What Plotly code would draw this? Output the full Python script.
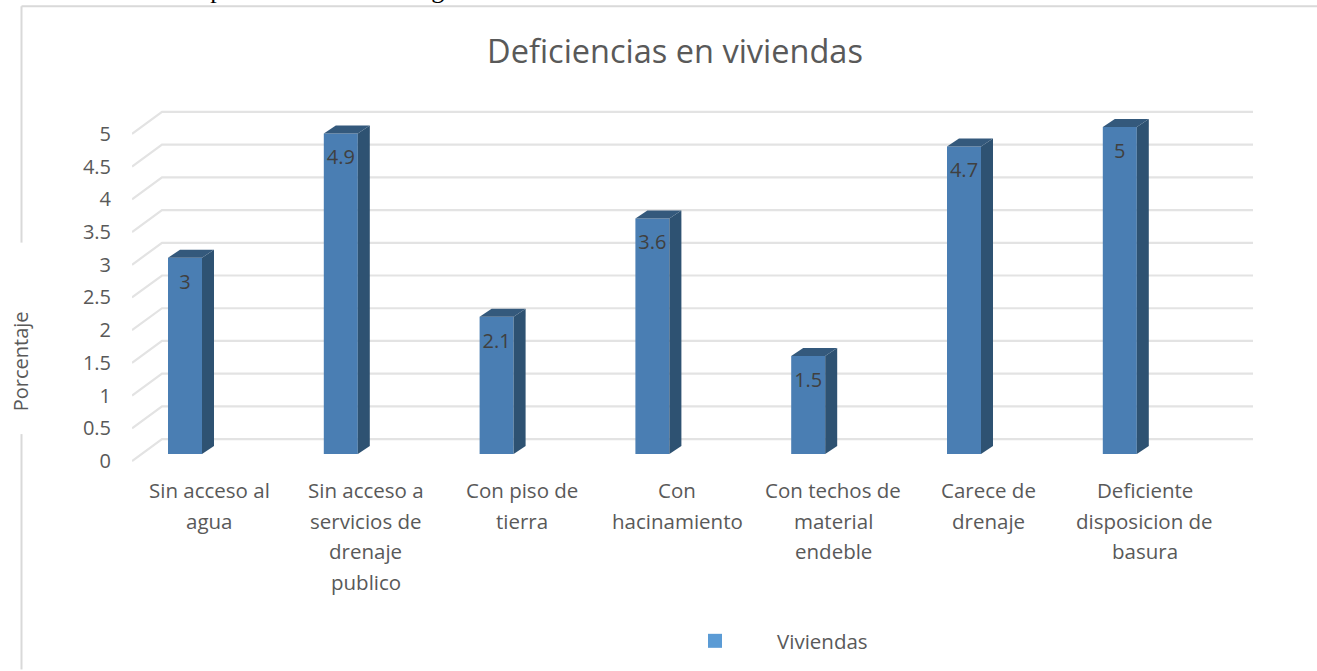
import plotly.graph_objects as go

# Data
categories = [
    ["Sin acceso al", "agua"],
    ["Sin acceso a", "servicios de", "drenaje", "publico"],
    ["Con piso de", "tierra"],
    ["Con", "hacinamiento"],
    ["Con techos de", "material", "endeble"],
    ["Carece de", "drenaje"],
    ["Deficiente", "disposicion de", "basura"],
]
values = [3, 4.9, 2.1, 3.6, 1.5, 4.7, 5]
y_ticks = [0, 0.5, 1, 1.5, 2, 2.5, 3, 3.5, 4, 4.5, 5]
series_name = "Viviendas"
title = "Deficiencias en viviendas"
y_title = "Porcentaje"
clipped_line = "actual. Como se puede observar en la gráfica:"

# Layout geometry (pixels on a 1317x671 page)
W, H = 1317, 671
PL, PR = 132, 1253      # plot left / right
Y0 = 462                # pixel row of value 0
PXU = 65.6              # pixels per y unit
BAND = 155.8            # pixels per category
PT, PB = 100, 469
FONT = "Open Sans"
TXT = "#595959"
GRID = "#e3e3e3"
FRONT, SIDE, TOP = "#4a7eb3", "#2e5272", "#34597c"


def px(x):
    return (x - PL) / (PR - PL)


def py(y):
    return (PB - y) / (PB - PT)


xu = lambda dx: dx / BAND
yu = lambda dy: dy / PXU

# Depth and bar placement, in data units
BAR_W = xu(34)
BAR_C = xu(53)          # bar centre from the start of its band
BAR_BASE = yu(7)        # floor of the front face
SIDE_DX, SIDE_DY = xu(12), yu(8)
GRID_DX, GRID_Y0, GRID_Y1 = xu(30), yu(0), yu(22)
LABEL_DROP = yu(26)

xs = [i + BAR_C for i in range(len(values))]
fig = go.Figure()

# Front faces
fig.add_trace(go.Bar(
    x=xs, y=values, base=BAR_BASE, width=BAR_W, marker=dict(color=FRONT, line=dict(width=0)),
    showlegend=False, hoverinfo="skip",
))

# Side and top faces
for x, v in zip(xs, values):
    r = x + BAR_W / 2
    l = x - BAR_W / 2
    b = BAR_BASE
    t = BAR_BASE + v
    fig.add_trace(go.Scatter(
        x=[r, r + SIDE_DX, r + SIDE_DX, r, r],
        y=[b, b + SIDE_DY, t + SIDE_DY, t, b],
        mode="lines", fill="toself", fillcolor=SIDE, line=dict(width=0),
        showlegend=False, hoverinfo="skip",
    ))
    fig.add_trace(go.Scatter(
        x=[l, l + SIDE_DX, r + SIDE_DX, r, l],
        y=[t, t + SIDE_DY, t + SIDE_DY, t, t],
        mode="lines", fill="toself", fillcolor=TOP, line=dict(width=0),
        showlegend=False, hoverinfo="skip",
    ))

# Data labels
fig.add_trace(go.Scatter(
    x=xs, y=[v + BAR_BASE - LABEL_DROP for v in values],
    text=[str(v) for v in values], mode="text", textposition="middle center",
    textfont=dict(family=FONT, size=20, color="#404040"),
    showlegend=False, hoverinfo="skip",
))

# Legend entry
fig.add_trace(go.Scatter(
    x=[None], y=[None], mode="markers", name=series_name,
    marker=dict(symbol="square", size=14, color="#5b9bd5"),
))

# Grid: perspective walls from the axis ticks
xmax = (PR - PL) / BAND
shapes = []
for v in y_ticks:
    path = (f"M 0 {v + GRID_Y0} L {GRID_DX} {v + GRID_Y1} L {xmax} {v + GRID_Y1}")
    shapes.append(dict(type="path", xref="x", yref="y", path=path,
                       line=dict(color=GRID, width=2.2), layer="below"))

# Chart frame, broken where the axis title sits
for x0, y0, x1, y1 in [(21.5, 6, W, 6), (21.5, 6, 21.5, 243), (21.5, 435, 21.5, H)]:
    shapes.append(dict(type="line", xref="paper", yref="paper",
                       x0=px(x0), x1=px(x1), y0=py(y0), y1=py(y1),
                       line=dict(color="#d9d9d9", width=2), layer="below"))

# Category labels, one annotation per line (line pitch is wider than Plotly's own)
annotations = []
for i, lines in enumerate(categories):
    for j, line in enumerate(lines):
        annotations.append(dict(
            x=i + 0.5, xref="x", y=py(491.5 + j * 30.5), yref="paper", text=line,
            showarrow=False, xanchor="center", yanchor="middle",
            font=dict(family=FONT, size=20.5, color=TXT),
        ))

# Axis title
annotations.append(dict(
    x=px(20), xref="paper", y=py(362), yref="paper", text=y_title, textangle=-90,
    showarrow=False, xanchor="center", yanchor="middle",
    font=dict(family=FONT, size=20, color=TXT),
))

# Body text of the page behind the chart, cut by the top of the picture
annotations.append(dict(
    x=px(36), xref="paper", y=py(5), yref="paper", text=clipped_line,
    showarrow=False, xanchor="left", yanchor="bottom", borderpad=0,
    font=dict(family="Liberation Serif", size=26, color="#000000"),
))

fig.update_layout(
    width=W, height=H, autosize=False,
    margin=dict(l=PL, r=W - PR, t=PT, b=H - PB, pad=0),
    paper_bgcolor="white", plot_bgcolor="white",
    title=dict(text=title, x=675 / W, y=1 - 52 / H, xref="container", yref="container",
               xanchor="center", yanchor="middle",
               font=dict(family=FONT, size=32.5, color=TXT)),
    xaxis=dict(range=[0, xmax], showgrid=False, zeroline=False, showline=False,
               showticklabels=False, ticks="", fixedrange=True),
    yaxis=dict(range=[(Y0 - PB) / PXU, (Y0 - PT) / PXU], tickvals=y_ticks,
               ticktext=[f"{v:g}" for v in y_ticks],
               showgrid=False, zeroline=False, showline=False, ticks="",
               ticklabelstandoff=20, fixedrange=True,
               tickfont=dict(family=FONT, size=20, color=TXT)),
    showlegend=True,
    legend=dict(x=px(653), y=py(641), xanchor="left", yanchor="middle", itemwidth=114,
                font=dict(family=FONT, size=20.5, color=TXT), bgcolor="rgba(0,0,0,0)"),
    shapes=shapes, annotations=annotations,
)

fig.write_html("out.html", config={"displayModeBar": False},
               post_script="document.body.style.margin='0';document.body.style.overflow='hidden';")
